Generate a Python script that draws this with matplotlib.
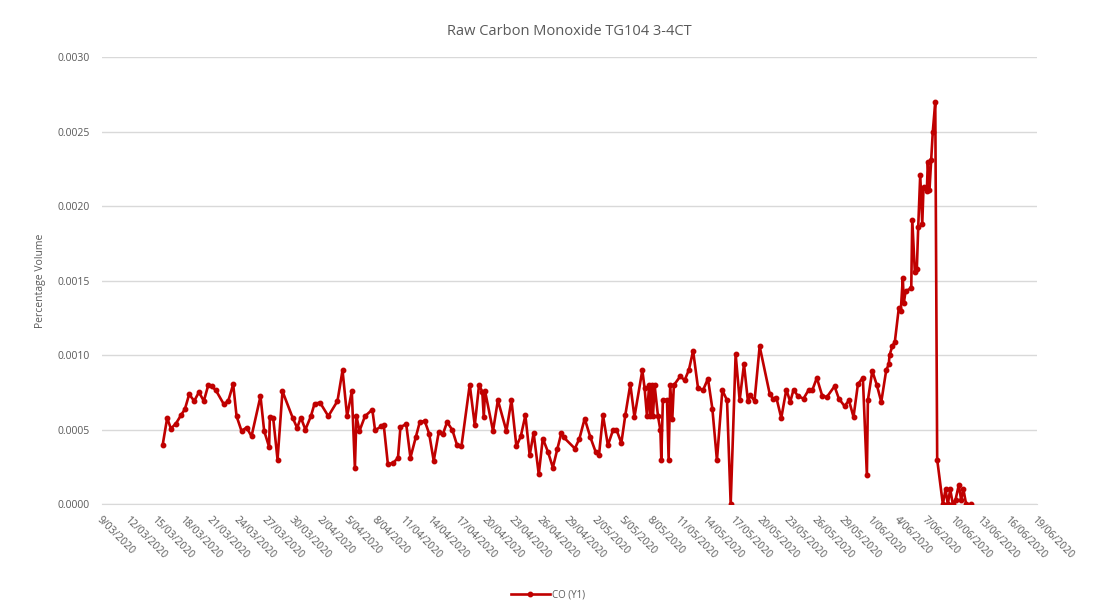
import matplotlib
matplotlib.use("Agg")
import matplotlib.pyplot as plt
import matplotlib.dates as mdates
import matplotlib.ticker as mticker
import numpy as np
import pandas as pd

# days since 9/03/2020 (fractional, readings are not at midnight)
day_offset = [
    6.62, 7.12, 7.52, 8.07, 8.62, 9.05, 9.52, 10.07, 10.58, 11.12,
    11.6, 11.96, 12.43, 13.3, 13.78, 14.32, 14.69, 15.23, 15.78, 16.32,
    17.3, 17.7, 18.24, 18.32, 18.68, 19.16, 19.7, 20.8, 21.3, 21.7,
    22.2, 22.8, 23.2, 23.8, 24.7, 25.7, 26.25, 26.75, 27.26, 27.6,
    27.77, 28.1, 28.7, 29.5, 29.8, 30.5, 30.75, 31.2, 31.77, 32.3,
    32.57, 33.2, 33.66, 34.24, 34.68, 35.22, 35.7, 36.2, 36.75, 37.22,
    37.66, 38.24, 38.75, 39.23, 40.13, 40.68, 41.15, 41.5, 41.66, 41.8,
    42.67, 43.2, 44.13, 44.68, 45.22, 45.7, 46.2, 46.67, 47.1, 47.66,
    48.1, 48.67, 49.2, 49.7, 50.13, 50.4, 51.6, 52.1, 52.67, 53.3,
    53.87, 54.23, 54.67, 55.2, 55.76, 56.13, 56.67, 57.1, 57.65, 58.1,
    58.96, 59.2, 59.47, 59.7, 59.84, 59.98, 60.12, 60.3, 60.67, 60.93,
    61.03, 61.2, 61.65, 61.83, 62.0, 62.23, 62.4, 63.1, 63.58, 64.05,
    64.5, 65.03, 65.58, 66.12, 66.6, 67.1, 67.69, 68.2, 68.6, 69.14,
    69.58, 70.05, 70.48, 70.74, 71.2, 71.76, 72.85, 73.2, 73.58, 74.12,
    74.67, 75.1, 75.46, 75.94, 76.55, 77.13, 77.5, 78.0, 78.6, 79.1,
    79.93, 80.4, 81.03, 81.5, 82.0, 82.48, 83.02, 83.46, 83.57, 84.05,
    84.55, 85.03, 85.57, 85.85, 85.93, 86.23, 86.51, 86.95, 87.16, 87.38,
    87.49, 87.68, 88.3, 88.41, 88.69, 88.91, 89.06, 89.28, 89.5, 89.64,
    90.0, 90.11, 90.29, 90.48, 90.65, 90.92, 91.13, 91.75, 92.04, 92.29,
    92.55, 92.84, 93.13, 93.49, 93.74, 93.99, 94.29, 94.84,
]

co_y1 = [
    0.000396, 0.000579, 0.000508, 0.000541, 0.000597, 0.000638, 0.000738, 0.000693, 0.000752, 0.000693,
    0.000799, 0.000792, 0.000765, 0.000671, 0.000693, 0.000805, 0.000591, 0.000492, 0.000515, 0.000456,
    0.000725, 0.000492, 0.000385, 0.000586, 0.000582, 0.000300, 0.000758, 0.000582, 0.000512, 0.000582,
    0.000501, 0.000591, 0.000676, 0.000682, 0.000591, 0.000693, 0.000899, 0.000591, 0.000758, 0.000244,
    0.000591, 0.000492, 0.000591, 0.000635, 0.000497, 0.000523, 0.000530, 0.000268, 0.000277, 0.000311,
    0.000519, 0.000537, 0.000313, 0.000448, 0.000552, 0.000559, 0.000474, 0.000291, 0.000485, 0.000474,
    0.000552, 0.000497, 0.000396, 0.000391, 0.000803, 0.000530, 0.000803, 0.000754, 0.000586, 0.000760,
    0.000492, 0.000698, 0.000492, 0.000698, 0.000389, 0.000456, 0.000597, 0.000329, 0.000479, 0.000201,
    0.000441, 0.000351, 0.000246, 0.000374, 0.000479, 0.000448, 0.000374, 0.000441, 0.000575, 0.000448,
    0.000351, 0.000329, 0.000597, 0.000396, 0.000497, 0.000501, 0.000411, 0.000597, 0.000805, 0.000586,
    0.000899, 0.000783, 0.000591, 0.000799, 0.000591, 0.000799, 0.000591, 0.000799, 0.000591, 0.000497,
    0.000300, 0.000698, 0.000703, 0.000300, 0.000799, 0.000575, 0.000799, 0.000859, 0.000832, 0.000904,
    0.001030, 0.000783, 0.000765, 0.000843, 0.000642, 0.000295, 0.000765, 0.000698, 0.000000, 0.001007,
    0.000698, 0.000940, 0.000693, 0.000732, 0.000693, 0.001060, 0.000743, 0.000709, 0.000716, 0.000579,
    0.000770, 0.000687, 0.000770, 0.000725, 0.000709, 0.000770, 0.000765, 0.000848, 0.000725, 0.000720,
    0.000792, 0.000709, 0.000658, 0.000698, 0.000586, 0.000805, 0.000850, 0.000195, 0.000698, 0.000895,
    0.000799, 0.000687, 0.000900, 0.000940, 0.001000, 0.001060, 0.001090, 0.001320, 0.001300, 0.001520,
    0.001350, 0.001430, 0.001450, 0.001910, 0.001560, 0.001580, 0.001860, 0.002210, 0.001880, 0.002130,
    0.002100, 0.002300, 0.002110, 0.002310, 0.002500, 0.002700, 0.000300, 0.000000, 0.000100, 0.000000,
    0.000100, 0.000000, 0.000030, 0.000130, 0.000030, 0.000100, 0.000000, 0.000000,
]

axis_start = "2020-03-09"
axis_end = "2020-06-19"
title = "Raw Carbon Monoxide TG104 3-4CT"
y_label = "Percentage Volume"
series_name = "CO (Y1)"

plt.rcParams['font.family'] = ['Open Sans', 'DejaVu Sans']
text_grey = '#595959'
line_red = '#C00000'

dates = pd.Timestamp(axis_start) + pd.to_timedelta(day_offset, unit='D')

fig = plt.figure(figsize=(10.96, 6.09), dpi=100)
ax = fig.add_axes([0.093, 0.172, 0.853, 0.734])

ax.plot(dates, co_y1, color=line_red, lw=1.9, marker='o', ms=3.2,
        label=series_name, zorder=3)

ax.set_xlim(pd.Timestamp(axis_start), pd.Timestamp(axis_end))
ax.set_ylim(0, 0.003)
ax.yaxis.set_major_locator(mticker.MultipleLocator(0.0005))
ax.yaxis.set_major_formatter(mticker.FormatStrFormatter('%.4f'))

# a tick every 3 days, labelled d/mm/yyyy
ax.xaxis.set_major_locator(mticker.FixedLocator(
    mdates.date2num(pd.date_range(axis_start, axis_end, freq='3D'))))
ax.xaxis.set_major_formatter(mticker.FuncFormatter(
    lambda v, p: (lambda d: f"{d.day}/{d.month:02d}/{d.year}")(mdates.num2date(v))))

for lab in ax.get_xticklabels():
    lab.set_rotation(-45)
    lab.set_ha('left')
    lab.set_va('top')
    lab.set_rotation_mode('anchor')

ax.tick_params(axis='both', length=0, labelsize=7.5, colors=text_grey)
ax.tick_params(axis='x', pad=7)
ax.tick_params(axis='y', pad=9)

ax.grid(axis='y', color='#d9d9d9', lw=1)
ax.set_axisbelow(True)
for s in ['top', 'right', 'left']:
    ax.spines[s].set_visible(False)
ax.spines['bottom'].set_color('#d9d9d9')

ax.set_title(title, fontsize=10.5, color=text_grey, pad=16)
ax.set_ylabel(y_label, fontsize=7.5, color=text_grey, labelpad=8)

fig.legend(loc='lower center', bbox_to_anchor=(0.5, 0.0), frameon=False,
           fontsize=7, labelcolor=text_grey, handlelength=4, handletextpad=0.2)

fig.savefig('out.png', dpi=100)
